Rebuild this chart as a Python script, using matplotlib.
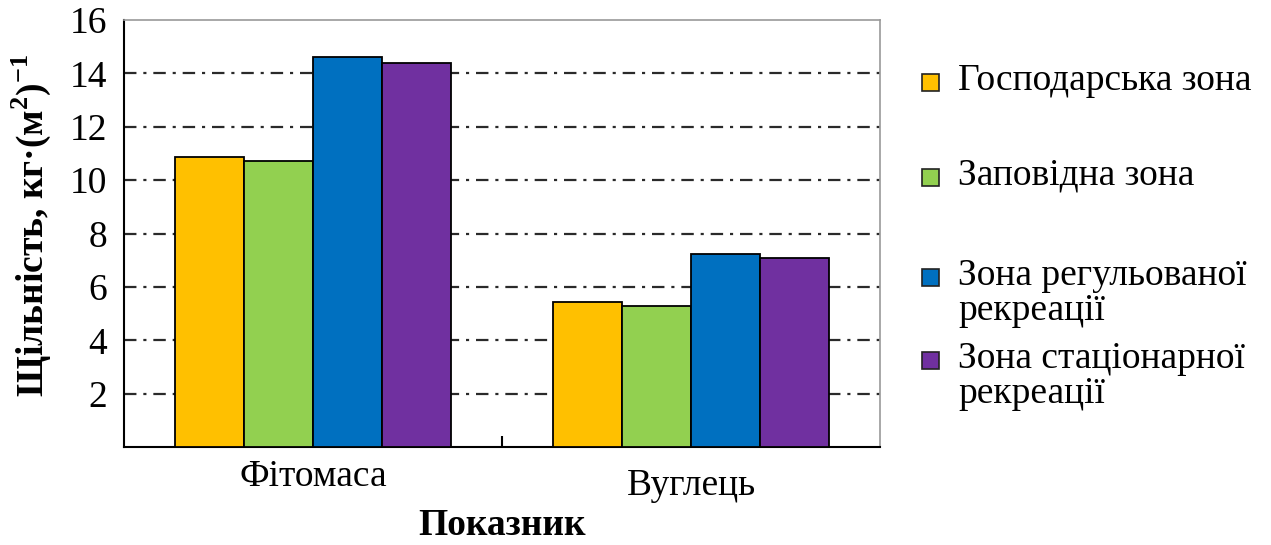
import matplotlib.pyplot as plt
import numpy as np
from matplotlib.patches import Rectangle

categories = ['Фітомаса', 'Вуглець']
zones = ['Господарська зона', 'Заповідна зона',
         'Зона регульованої\nрекреації', 'Зона стаціонарної\nрекреації']
values = {
    'Господарська зона': [10.86, 5.43],
    'Заповідна зона': [10.71, 5.28],
    'Зона регульованої\nрекреації': [14.6, 7.23],
    'Зона стаціонарної\nрекреації': [14.38, 7.08],
}
colors = ['#FFC000', '#92D050', '#0070C0', '#7030A0']
yticks = [2, 4, 6, 8, 10, 12, 14, 16]

plt.rcParams['font.family'] = ['Liberation Serif', 'DejaVu Serif']
plt.rcParams['mathtext.fontset'] = 'custom'
plt.rcParams['mathtext.rm'] = 'Liberation Serif'
plt.rcParams['mathtext.bf'] = 'Liberation Serif:bold'

W, H = 1271, 545
FS = 27

fig = plt.figure(figsize=(W / 100, H / 100), dpi=100)
ax = fig.add_axes([124 / W, 1 - 447 / H, 756 / W, 427 / H])

x = np.arange(len(categories))
width = 0.183
for i, (zone, color) in enumerate(zip(zones, colors)):
    offset = (i - 1.5) * width
    ax.bar(x + offset, values[zone], width, color=color, edgecolor='black',
           linewidth=1.3, zorder=3)

ax.set_xlim(-0.5, 1.5)
ax.set_ylim(0, 16)
ax.set_yticks(yticks)
ax.set_yticklabels([str(t) for t in yticks], fontsize=FS)
ax.tick_params(axis='y', length=0, pad=12)
for t in yticks[:-1]:
    ax.axhline(t, color='#2a2a2a', linestyle=(0, (5.6, 3.1, 1.4, 3.1)),
               linewidth=1.6, zorder=1)

ax.set_xticks(x)
ax.set_xticklabels(categories, fontsize=FS)
ax.tick_params(axis='x', length=0, pad=9)
ax.get_xticklabels()[1].set_y(-0.02)
ax.set_xticks([0.5], minor=True)
ax.tick_params(axis='x', which='minor', direction='in', length=8, width=1.5)

for side in ['left', 'bottom']:
    ax.spines[side].set_linewidth(1.5)
for side in ['top', 'right']:
    ax.spines[side].set_color('#999999')
    ax.spines[side].set_linewidth(1.2)

ax.set_ylabel(r'Щільність, кг·(м$^{\mathbf{2}}$)$^{\mathbf{-1}}$', fontsize=FS,
              fontweight='bold')
ax.yaxis.set_label_coords(-0.094, 0.52)
ax.set_xlabel('Показник', fontsize=FS, fontweight='bold', labelpad=4)

# legend drawn by hand to keep the uneven spacing of the original
legend_base = [90, 185, 285, 368]
for zone, color, base in zip(zones, colors, legend_base):
    fig.add_artist(Rectangle((922 / W, 1 - (base + 1) / H), 17 / W, 17 / H,
                             facecolor=color, edgecolor='#222222', linewidth=1.2,
                             transform=fig.transFigure))
    for k, line in enumerate(zone.split('\n')):
        fig.text(958 / W, 1 - (base + 35 * k) / H, line, fontsize=FS,
                 va='baseline', ha='left')

fig.savefig('out.png', dpi=100)
